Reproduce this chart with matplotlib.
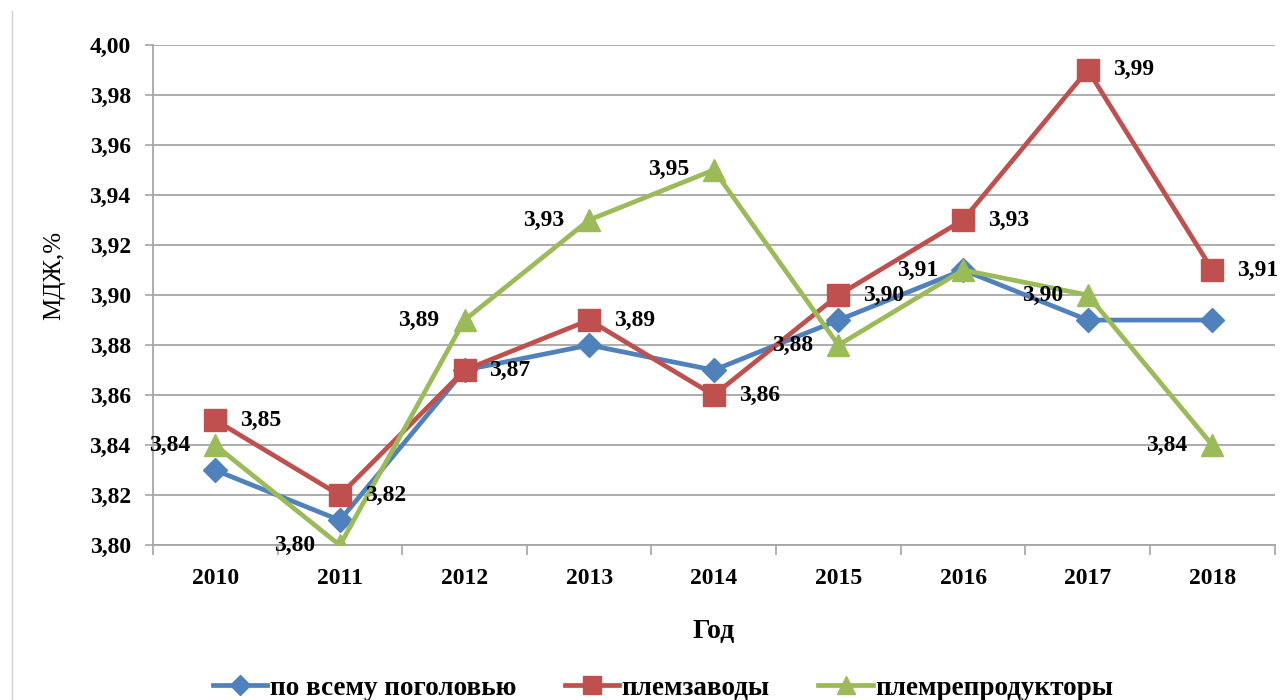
import matplotlib.pyplot as plt
from matplotlib.lines import Line2D

years = ['2010', '2011', '2012', '2013', '2014', '2015', '2016', '2017', '2018']
vse = [3.83, 3.81, 3.87, 3.88, 3.87, 3.89, 3.91, 3.89, 3.89]
zavody = [3.85, 3.82, 3.87, 3.89, 3.86, 3.90, 3.93, 3.99, 3.91]
reprod = [3.84, 3.80, 3.89, 3.93, 3.95, 3.88, 3.91, 3.90, 3.84]

labels = ['по всему поголовью', 'племзаводы', 'племрепродукторы']
colors = ['#4F81BD', '#C0504D', '#9BBB59']

plt.rcParams['font.family'] = ['Liberation Serif', 'DejaVu Serif']

fig = plt.figure(figsize=(12.85, 7), dpi=100)
ax = fig.add_axes([0.119, 0.221, 0.873, 0.715])

x = list(range(len(years)))
ax.plot(x, vse, color=colors[0], lw=3.4, marker='D', ms=12.5, label=labels[0], zorder=3)
ax.plot(x, zavody, color=colors[1], lw=3.4, marker='s', ms=16, label=labels[1], zorder=3)
ax.plot(x, reprod, color=colors[2], lw=3.4, marker='^', ms=16, label=labels[2], zorder=3)

fmt = lambda v: ('%.2f' % v).replace('.', ',')
for xi, v in zip(x, zavody):
    ax.annotate(fmt(v), (xi, v), xytext=(18, 0), textcoords='offset points',
                ha='left', va='center', fontsize=17, fontweight='bold')
for xi, v in zip(x, reprod):
    ax.annotate(fmt(v), (xi, v), xytext=(-18, 0), textcoords='offset points',
                ha='right', va='center', fontsize=17, fontweight='bold')

ax.set_xlim(-0.5, len(years) - 0.5)
ax.set_ylim(3.80, 4.00)
ax.set_yticks([3.80 + 0.02 * i for i in range(11)])
ax.set_yticklabels([fmt(3.80 + 0.02 * i) for i in range(11)], fontsize=17, fontweight='bold')
ax.set_xticks(x)
ax.set_xticklabels(years, fontsize=17, fontweight='bold')
ax.set_xticks([i + 0.5 for i in range(-1, len(years))], minor=True)
ax.tick_params(axis='x', which='major', length=0, pad=16)
ax.tick_params(axis='x', which='minor', length=7, color='#a6a6a6', width=1.2)
ax.tick_params(axis='y', length=6, color='#a6a6a6', width=1.2, pad=10)

ax.grid(axis='y', color='#a6a6a6', lw=1.3)
ax.set_axisbelow(True)
for s in ['top', 'right']:
    ax.spines[s].set_visible(False)
for s in ['left', 'bottom']:
    ax.spines[s].set_color('#a6a6a6')
    ax.spines[s].set_linewidth(1.3)

ax.set_xlabel('Год', fontsize=20, fontweight='bold', labelpad=22)
ax.set_ylabel('МДЖ,%', fontsize=18)
ax.yaxis.set_label_coords(-0.078, 0.54)

handles = [Line2D([], [], color=colors[0], lw=3.4, marker='D', ms=10),
           Line2D([], [], color=colors[1], lw=3.4, marker='s', ms=13),
           Line2D([], [], color=colors[2], lw=3.4, marker='^', ms=13)]
fig.legend(handles, labels, loc='center', bbox_to_anchor=(0.516, 0.017), ncol=3,
           frameon=False, prop={'size': 19.5, 'weight': 'bold'},
           handlelength=2.0, handletextpad=0.1, columnspacing=1.8)

fig.add_artist(Line2D([0.0095, 0.0095], [0.0, 0.985], color='#d0d0d0', lw=1))

fig.savefig('out.png', dpi=100)
